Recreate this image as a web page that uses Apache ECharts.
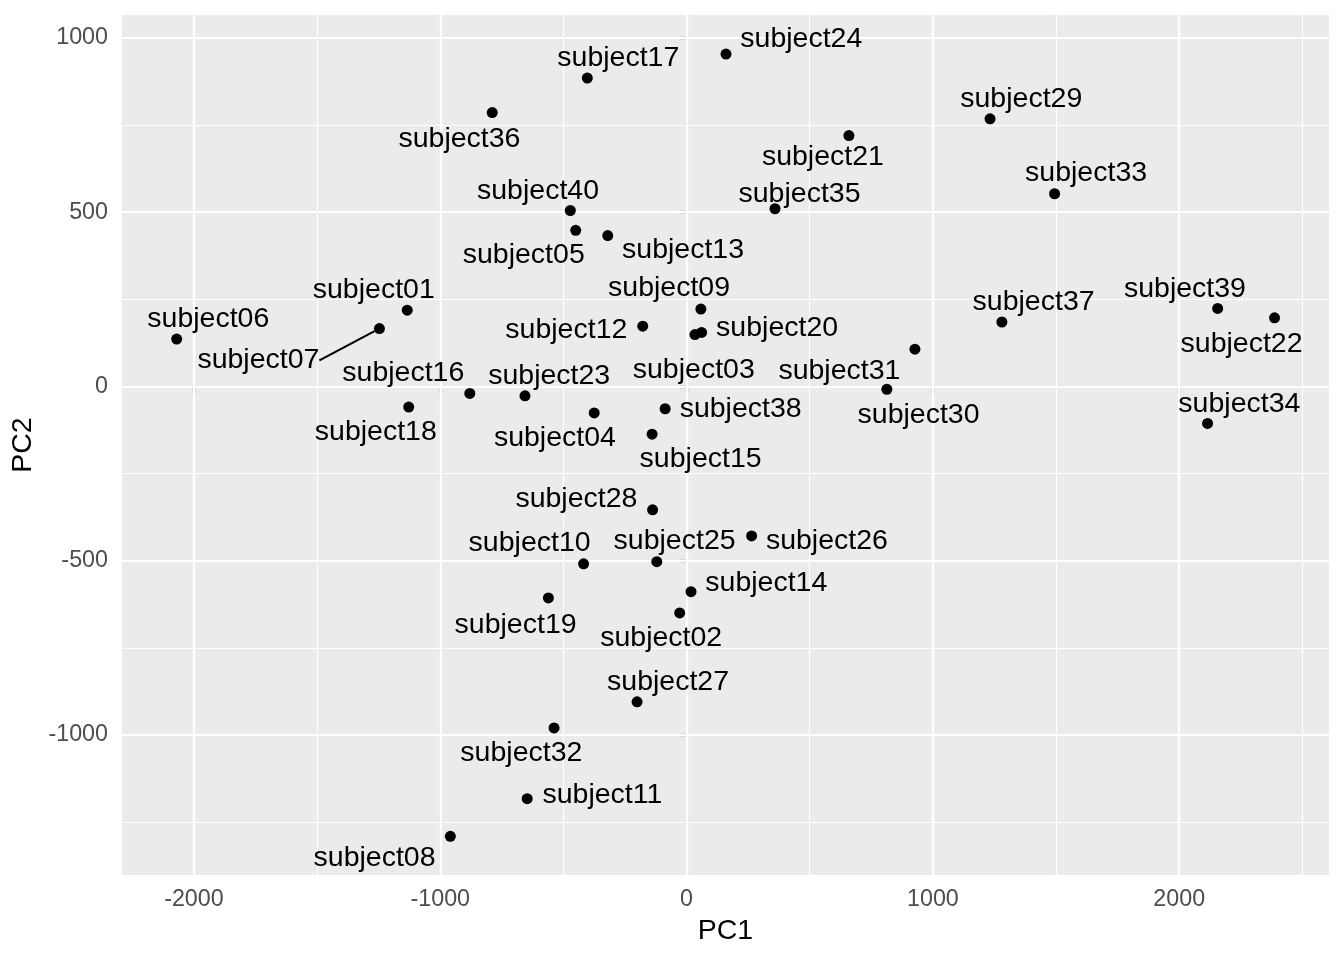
<!DOCTYPE html>
<html>
<head>
<meta charset="utf-8">
<script src="https://cdn.jsdelivr.net/npm/echarts@6/dist/echarts.min.js"></script>
<style>
  html, body { margin: 0; padding: 0; background: #ffffff; }
  #chart { width: 1344px; height: 960px; }
</style>
</head>
<body>
<div id="chart"></div>
<script>
// ---- data ----
const subjects = ['subject01','subject02','subject03','subject04','subject05','subject06','subject07','subject08','subject09','subject10',
                  'subject11','subject12','subject13','subject14','subject15','subject16','subject17','subject18','subject19','subject20',
                  'subject21','subject22','subject23','subject24','subject25','subject26','subject27','subject28','subject29','subject30',
                  'subject31','subject32','subject33','subject34','subject35','subject36','subject37','subject38','subject39','subject40'];
const pc1 = [-1134, -28, 34, -375, -450, -2070, -1247, -959, 58, -418,
             -647, -178, -320, 18, -140, -880, -403, -1128, -561, 61,
             659, 2387, -656, 160, -121, 264, -201, -138, 1232, 813,
             927, -538, 1494, 2115, 359, -789, 1280, -87, 2156, -472];
const pc2 = [219, -650, 149, -76, 448, 136, 166, -1291, 222, -509,
             -1183, 173, 433, -589, -137, -20, 885, -59, -607, 155,
             720, 197, -27, 954, -503, -429, -905, -354, 768, -8,
             107, -980, 553, -106, 510, 786, 185, -64, 224, 505];
const xTicks = [-2000, -1000, 0, 1000, 2000];
const yTicks = [-1000, -500, 0, 500, 1000];
const xMinorTicks = [-1500, -500, 500, 1500, 2500];
const yMinorTicks = [-1250, -750, -250, 250, 750];
const xTitle = 'PC1';
const yTitle = 'PC2';

// ---- label placement (layout only, pixels, label centre relative to point) ----
const labelDx = [-33.5, -18.5, -1.2, -39.3, -52, 31.6, -121, -75.8, -31.8, -54,
                 75.2, -76.4, 75.3, 75.3, 48.5, -66.5, 31, -32.9, -32.8, 75.5,
                 -26, -33, 24.2, 75.3, 17.8, 75.3, 31, -76.2, 31.2, 31.7,
                 -75.5, -32.7, 31.5, 31.8, 24.5, -32.8, 31.7, 75.5, -32.7, -32.3];
const labelDy = [-22, 23.7, 33.7, 23.6, 23, -21.7, 30.3, 20.6, -22.7, -21.7,
                 -5.3, 2, 12.7, -10.4, 23.3, -21.3, -21, 23.9, 25.7, -6,
                 19.6, 25.3, -21.1, -16.3, -22.4, 3.6, -21, -12, -21, 24,
                 20.3, 24, -22, -20.3, -16, 25, -21.1, -0.7, -21, -20.4];
const labelShiftY = 1.5;
const withSegment = ['subject07'];

const FONT = '"Liberation Sans", Arial, Helvetica, sans-serif';

const points = subjects.map((s, i) => {
  const item = { name: s, value: [pc1[i], pc2[i]] };
  if (withSegment.indexOf(s) >= 0) item.labelLine = { show: true };
  return item;
});

const gridLines = [];
xTicks.forEach(v => gridLines.push({ xAxis: v, lineStyle: { color: '#ffffff', width: 2.2, type: 'solid' } }));
yTicks.forEach(v => gridLines.push({ yAxis: v, lineStyle: { color: '#ffffff', width: 2.2, type: 'solid' } }));
xMinorTicks.forEach(v => gridLines.push({ xAxis: v, lineStyle: { color: '#ffffff', width: 1.1, type: 'solid' } }));
yMinorTicks.forEach(v => gridLines.push({ yAxis: v, lineStyle: { color: '#ffffff', width: 1.1, type: 'solid' } }));

const chart = echarts.init(document.getElementById('chart'), null, { renderer: 'canvas' });
chart.setOption({
  animation: false,
  backgroundColor: '#ffffff',
  grid: {
    left: 122, top: 15, width: 1207, height: 860,
    backgroundColor: '#EBEBEB', show: true, borderWidth: 0,
    containLabel: false, outerBoundsMode: 'none'
  },
  xAxis: {
    type: 'value', min: -2292, max: 2608,
    name: xTitle, nameLocation: 'middle', nameGap: 42,
    nameTextStyle: { fontFamily: FONT, fontSize: 28.5, color: '#000000' },
    axisLine: { show: false },
    axisTick: { show: true, customValues: xTicks, length: 7, lineStyle: { color: '#333333', width: 2.2 } },
    axisLabel: { customValues: xTicks, margin: 13, fontFamily: FONT, fontSize: 23.3, color: '#4D4D4D',
                 formatter: v => String(v) },
    splitLine: { show: false }, minorSplitLine: { show: false }
  },
  yAxis: {
    type: 'value', min: -1402, max: 1066,
    name: yTitle, nameLocation: 'middle', nameGap: 82, nameRotate: 90,
    nameTextStyle: { fontFamily: FONT, fontSize: 28.5, color: '#000000' },
    axisLine: { show: false },
    axisTick: { show: true, customValues: yTicks, length: 7, lineStyle: { color: '#333333', width: 2.2 } },
    axisLabel: { customValues: yTicks, margin: 14, fontFamily: FONT, fontSize: 23.3, color: '#4D4D4D',
                 formatter: v => String(v) },
    splitLine: { show: false }, minorSplitLine: { show: false }
  },
  series: [
    {
      type: 'scatter', z: 1, data: [], silent: true,
      markLine: { z: 1, zlevel: 0, silent: true, symbol: ['none', 'none'], label: { show: false },
                  animation: false, data: gridLines }
    },
    {
      type: 'scatter', z: 3,
      data: points,
      symbol: 'circle', symbolSize: 11,
      itemStyle: { color: '#000000', opacity: 1 },
      label: { show: true, position: 'inside', formatter: p => p.name,
               fontFamily: FONT, fontSize: 28.5, color: '#000000' },
      labelLine: { show: false, length2: 0, lineStyle: { color: '#000000', width: 2.1 } },
      labelLayout: function (params) {
        return { dx: labelDx[params.dataIndex], dy: labelDy[params.dataIndex] + labelShiftY };
      },
      emphasis: { disabled: true }
    }
  ]
});
</script>
</body>
</html>
